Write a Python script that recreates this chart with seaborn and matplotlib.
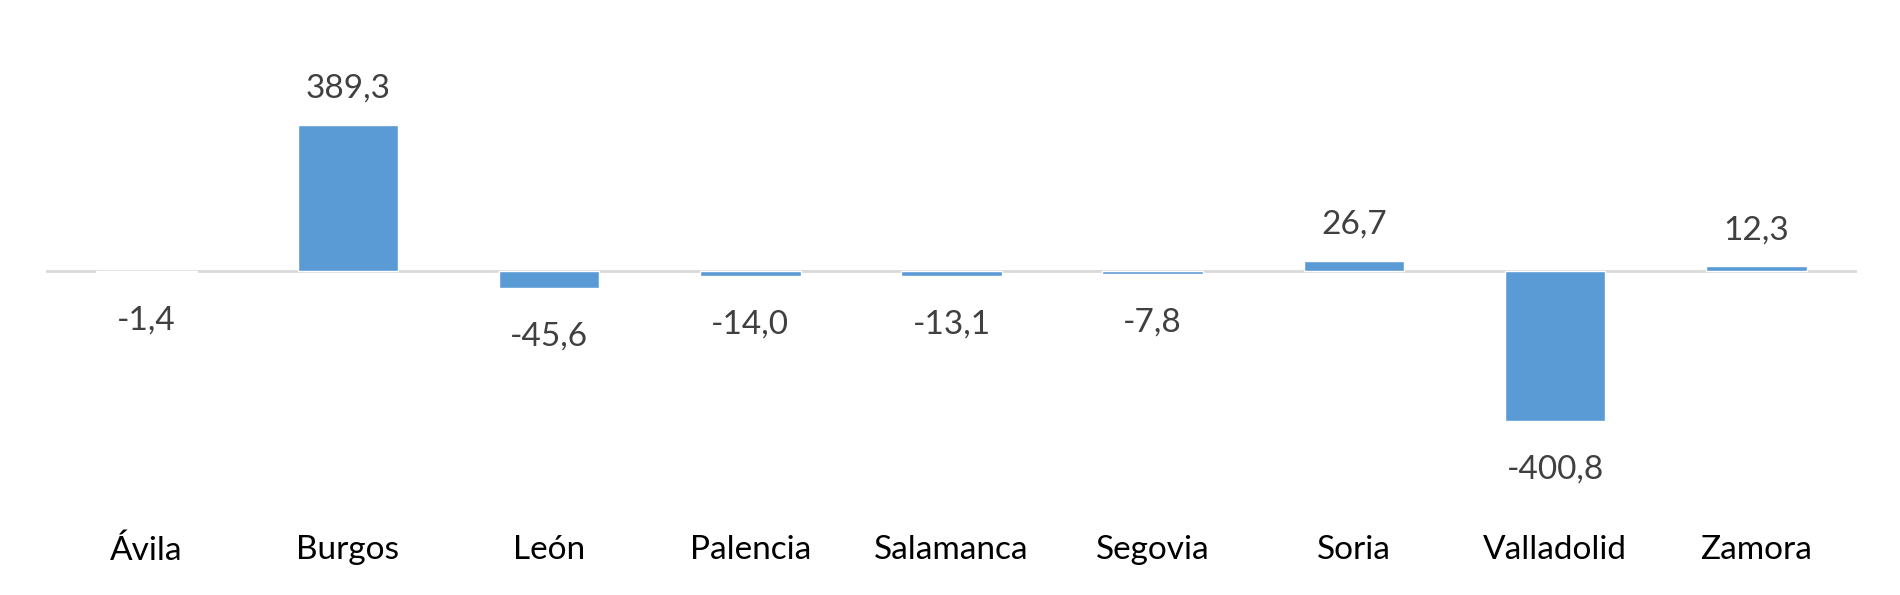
import matplotlib
matplotlib.use('agg')
from matplotlib import pyplot as plt
import seaborn as sns
import pandas as pd

provincias = ['Ávila', 'Burgos', 'León', 'Palencia', 'Salamanca', 'Segovia', 'Soria', 'Valladolid', 'Zamora']
valores = [-1.4, 389.3, -45.6, -14.0, -13.1, -7.8, 26.7, -400.8, 12.3]

df = pd.DataFrame({'provincia': provincias, 'valor': valores})

sns.set_style('white')
plt.rcParams['font.family'] = ['Lato', 'DejaVu Sans']

fig = plt.figure(figsize=(19, 5.95), dpi=100)
ax = fig.add_axes([46 / 1900, 85 / 595, 1811 / 1900, 470 / 595])

sns.barplot(data=df, x='provincia', y='valor', color='#5B9BD5', saturation=1,
            width=0.5, ax=ax)

ax.set_ylim(-637, 616)
ax.set_xlim(-0.5, len(provincias) - 0.5)
ax.axhline(0, color='#D9D9D9', lw=2, zorder=0)

for s in ax.spines.values():
    s.set_visible(False)
ax.set_yticks([])
ax.set_xlabel('')
ax.set_ylabel('')
ax.tick_params(axis='x', length=0, pad=18, labelsize=24, labelcolor='black')

for i, v in enumerate(valores):
    off = 26 if v >= 0 else -35
    ax.annotate(f'{v:.1f}'.replace('.', ','), xy=(i, v), xytext=(0, off),
                textcoords='offset points', ha='center', va='center',
                fontsize=24, color='#404040')

fig.savefig('out.png', dpi=100)
